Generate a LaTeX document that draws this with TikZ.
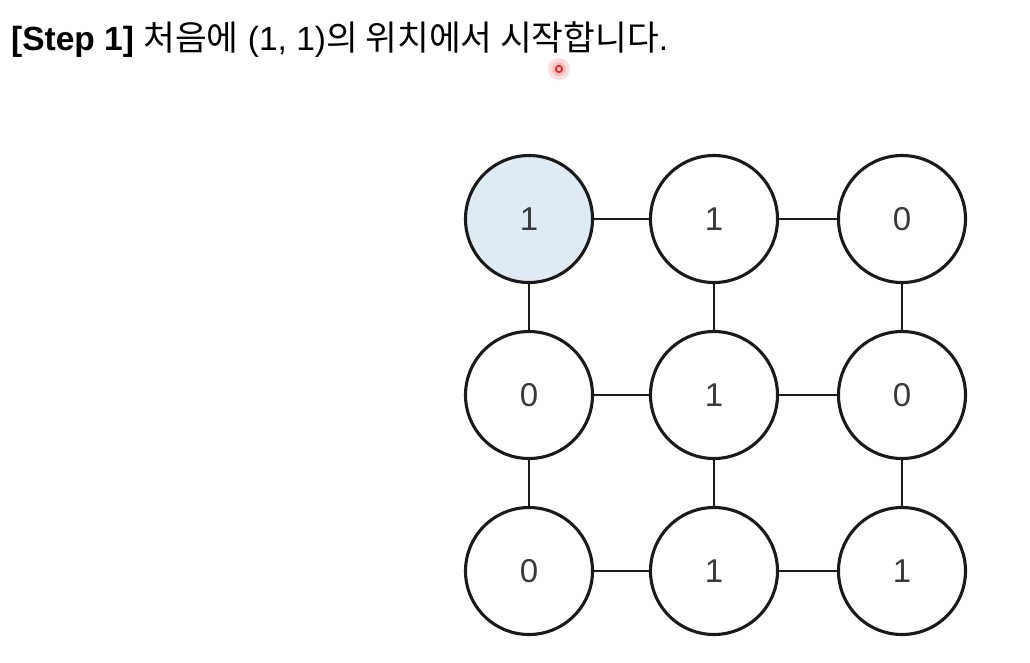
\documentclass[tikz,border=0pt]{standalone}
\usepackage{fontspec}
\setmainfont{Liberation Sans}
\newfontfamily\kr{Noto Sans CJK KR}
\definecolor{startfill}{HTML}{DEEBF5}
\definecolor{ink}{HTML}{1A1A1A}
\definecolor{digit}{HTML}{3A3A3A}
\definecolor{dotred}{HTML}{E0302A}
\begin{document}
\begin{tikzpicture}[x=1pt,y=-1pt,
  cell/.style={circle,draw=ink,line width=3.1pt,minimum size=127pt,inner sep=0pt,fill=white,
    font=\fontsize{33}{33}\selectfont,text=digit},
  start/.style={cell,fill=startfill},
  link/.style={draw=ink,line width=2.8pt}]
\useasboundingbox (0,0) rectangle (1030,662);
\fill[white] (0,0) rectangle (1030,662);
% title
\node[anchor=base west,inner sep=0pt,font=\fontsize{33.5}{33.5}\selectfont] (title) at (11,50)
  {\textbf{[Step 1]} {\kr\fontsize{34.5}{34.5}\selectfont 처음에} (1, 1){\kr\fontsize{34.5}{34.5}\selectfont 의 위치에서 시작합니다}.};
% pointer dot
\fill[dotred!25,opacity=0.6] (559,69) circle (11);
\fill[dotred!40,opacity=0.6] (559,69) circle (7);
\draw[dotred,line width=1.8pt] (559,69) circle (3.2);
% nodes
\node[start] (a11) at (529,219) {1};
\node[cell] (a12) at (714,219) {1};
\node[cell] (a13) at (902,219) {0};
\node[cell] (a21) at (529,395) {0};
\node[cell] (a22) at (714,395) {1};
\node[cell] (a23) at (902,395) {0};
\node[cell] (a31) at (529,571) {0};
\node[cell] (a32) at (714,571) {1};
\node[cell] (a33) at (902,571) {1};
% connectors
\draw[link] (a11) -- (a12);
\draw[link] (a12) -- (a13);
\draw[link] (a21) -- (a22);
\draw[link] (a22) -- (a23);
\draw[link] (a31) -- (a32);
\draw[link] (a32) -- (a33);
\draw[link] (a11) -- (a21);
\draw[link] (a12) -- (a22);
\draw[link] (a13) -- (a23);
\draw[link] (a21) -- (a31);
\draw[link] (a22) -- (a32);
\draw[link] (a23) -- (a33);
\end{tikzpicture}
\end{document}
